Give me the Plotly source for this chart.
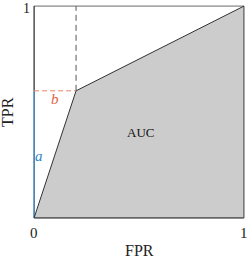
import plotly.graph_objects as go

fpr = [0.0, 0.2, 1.0]
tpr = [0.0, 0.6, 1.0]
x_ticks = [0, 1]
y_ticks = [1]
x_title = "FPR"
y_title = "TPR"
area_label = "AUC"

SERIF = "Liberation Serif"
TXT = "#222222"
pad = 0.01

fig = go.Figure()
fig.add_trace(go.Scatter(x=fpr + [fpr[-1], fpr[0]], y=tpr + [0, 0], fill="toself",
                         fillcolor="#cccccc", line=dict(width=0), mode="lines",
                         hoverinfo="skip"))
fig.add_trace(go.Scatter(x=[0, 1], y=[1, 1], mode="lines", line=dict(color="#aaaaaa", width=1.6)))
fig.add_trace(go.Scatter(x=[0, 0], y=[tpr[1], 1], mode="lines", line=dict(color="#222222", width=1.2)))
fig.add_trace(go.Scatter(x=[0, 0], y=[0, tpr[1]], mode="lines", line=dict(color="#1e6aa0", width=1.4)))
fig.add_trace(go.Scatter(x=[0, 1], y=[0, 0], mode="lines", line=dict(color="#666666", width=1.6)))
fig.add_trace(go.Scatter(x=[1, 1], y=[0, 1], mode="lines", line=dict(color="#555555", width=1.2)))
fig.add_trace(go.Scatter(x=fpr, y=tpr, mode="lines", line=dict(color="#333333", width=1)))
fig.add_trace(go.Scatter(x=[0, fpr[1]], y=[tpr[1], tpr[1]], mode="lines",
                         line=dict(color="#e8825f", width=1, dash="5px,3px")))
fig.add_trace(go.Scatter(x=[fpr[1], fpr[1]], y=[tpr[1], 1], mode="lines",
                         line=dict(color="#555555", width=1, dash="6px,4px")))

fig.add_annotation(x=0.021, y=0.29, text="<i>a</i>", showarrow=False,
                   font=dict(family=SERIF, size=15, color="#2e86c8"))
fig.add_annotation(x=0.1, y=0.56, text="<i>b</i>", showarrow=False,
                   font=dict(family=SERIF, size=15, color="#e2603e"))
fig.add_annotation(x=0.505, y=0.405, text=area_label, showarrow=False,
                   font=dict(family=SERIF, size=13, color="#111111"))

for xv in x_ticks:
    fig.add_annotation(x=xv, y=0, text=str(xv), showarrow=False, yshift=-15,
                       font=dict(family=SERIF, size=15, color=TXT))
for yv in y_ticks:
    fig.add_annotation(x=0, y=yv, text=str(yv), showarrow=False, xshift=-8, yshift=-2,
                       font=dict(family=SERIF, size=14, color=TXT))

fig.add_annotation(x=0.5, y=-0.1435, text=x_title, showarrow=False, xref="paper", yref="paper",
                   xanchor="center", yanchor="middle",
                   font=dict(family=SERIF, size=16, color=TXT))
fig.add_annotation(x=-0.117, y=0.5, text=y_title, showarrow=False, textangle=-90,
                   xref="paper", yref="paper", xanchor="center", yanchor="middle",
                   font=dict(family=SERIF, size=16, color=TXT))

fig.update_layout(
    width=249, height=259, showlegend=False,
    margin=dict(l=32, r=3, t=4, b=39),
    plot_bgcolor="white", paper_bgcolor="white",
    xaxis=dict(range=[-pad, 1 + pad], showgrid=False, zeroline=False, showline=False,
               showticklabels=False, ticks="", fixedrange=True),
    yaxis=dict(range=[-pad, 1 + pad], showgrid=False, zeroline=False, showline=False,
               showticklabels=False, ticks="", fixedrange=True),
)
fig.write_html("out.html", config={"displayModeBar": False},
               post_script="document.body.style.margin='0';document.body.style.padding='0';")
